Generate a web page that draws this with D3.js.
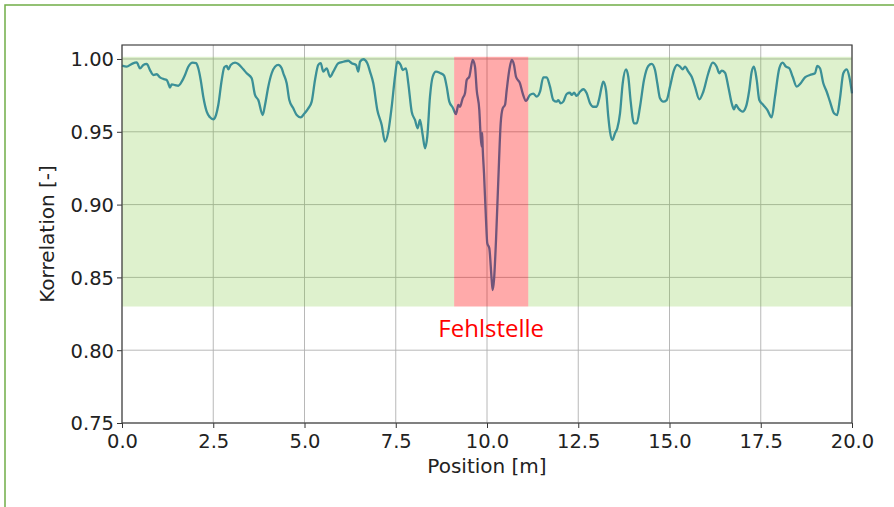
<!DOCTYPE html>
<html><head><meta charset="utf-8">
<script src="https://cdn.jsdelivr.net/npm/d3@7"></script>
<style>body{margin:0;background:#fff;} svg{display:block;}</style>
</head><body>
<svg id="c" width="894" height="507"></svg>
<script>
const positions = [0,0.129,0.266,0.403,0.493,0.584,0.677,0.767,0.858,0.951,1.041,1.132,1.225,1.268,1.315,1.362,1.452,1.542,1.636,1.726,1.816,1.937,2.027,2.090,2.156,2.227,2.321,2.411,2.501,2.575,2.638,2.732,2.803,2.868,2.912,2.978,3.096,3.186,3.323,3.416,3.553,3.644,3.734,3.855,3.918,4.008,4.101,4.192,4.282,4.375,
4.419,4.512,4.584,4.693,4.786,4.896,4.986,5.104,5.197,5.288,5.378,5.444,5.515,5.608,5.699,5.789,5.926,6.063,6.200,6.293,6.411,6.474,6.521,6.611,6.721,6.795,6.885,6.995,7.115,7.205,7.296,7.389,7.479,7.542,7.636,7.690,7.781,7.844,7.937,8.027,8.101,8.164,8.238,8.301,8.364,8.438,8.512,8.603,8.712,8.822,8.896,8.967,9.060,9.151,
9.214,9.260,9.334,9.397,9.444,9.515,9.608,9.671,9.718,9.789,9.827,9.855,9.868,9.882,9.918,9.973,10.008,10.063,10.129,10.156,10.192,10.247,10.310,10.375,10.430,10.493,10.540,10.611,10.677,10.740,10.795,10.904,10.978,11.068,11.178,11.268,11.362,11.452,11.542,11.636,11.726,11.816,11.910,11.953,12.019,12.090,12.184,12.274,12.321,12.384,12.458,12.548,12.638,12.732,12.822,12.912,13.005,13.077,13.142,13.186,13.260,13.323,13.370,13.433,13.507,13.570,13.644,13.718,13.808,13.871,13.937,14.027,14.101,14.192,14.301,14.419,14.512,14.603,14.666,14.740,14.830,14.923,15.014,15.123,15.214,15.288,15.362,15.425,15.515,15.608,15.699,15.816,15.926,16.063,16.184,16.293,16.364,16.430,16.521,16.611,16.704,16.767,16.822,16.885,17.005,17.096,17.186,17.252,17.315,17.389,17.460,17.570,17.679,17.800,17.890,18.008,18.101,18.192,18.282,18.375,18.485,18.595,18.712,18.849,18.986,19.049,19.123,19.214,19.307,19.397,19.507,19.592,19.671,19.762,19.855,19.926,20.0];
const correlation = [0.9954,0.9947,0.9966,0.9977,0.9936,0.9959,0.9966,0.9924,0.9890,0.9895,0.9874,0.9863,0.9856,0.9833,0.9803,0.9826,0.9821,0.9816,0.9844,0.9890,0.9947,0.9975,0.9971,0.9936,0.9856,0.9741,0.9638,0.9599,0.9586,0.9615,0.9684,0.9856,0.9943,0.9952,0.9929,0.9959,0.9975,0.9966,0.9929,0.9902,0.9867,0.9753,0.9718,0.9615,0.9684,0.9810,0.9902,0.9947,0.9959,0.9936,
0.9902,0.9833,0.9718,0.9661,0.9615,0.9599,0.9622,0.9661,0.9707,0.9856,0.9959,0.9971,0.9913,0.9936,0.9878,0.9913,0.9971,0.9981,0.9988,0.9971,0.9959,0.9913,0.9981,0.9998,0.9971,0.9913,0.9833,0.9650,0.9547,0.9432,0.9501,0.9672,0.9878,0.9981,0.9959,0.9924,0.9936,0.9833,0.9638,0.9581,0.9524,0.9581,0.9478,0.9387,0.9467,0.9741,0.9878,0.9913,0.9904,0.9887,0.9810,0.9707,0.9667,0.9622,
0.9684,0.9672,0.9730,0.9764,0.9856,0.9878,0.9993,0.9947,0.9787,0.9650,0.9467,0.9398,0.9492,0.9389,0.9215,0.8894,0.8734,0.8700,0.8482,0.8413,0.8482,0.8757,0.9169,0.9558,0.9661,0.9684,0.9787,0.9924,0.9993,0.9959,0.9878,0.9833,0.9764,0.9712,0.9753,0.9762,0.9741,0.9775,0.9874,0.9874,0.9810,0.9718,0.9707,0.9718,0.9696,0.9707,0.9760,0.9768,0.9753,0.9768,0.9746,0.9775,0.9792,0.9764,0.9696,0.9672,0.9672,0.9730,0.9810,0.9844,0.9787,0.9604,0.9501,0.9444,0.9490,0.9524,0.9627,0.9833,0.9929,0.9878,0.9707,0.9558,0.9558,0.9672,0.9856,0.9952,0.9966,0.9924,0.9833,0.9730,0.9707,0.9718,0.9810,0.9924,0.9959,0.9947,0.9929,0.9947,0.9913,0.9878,0.9810,0.9723,0.9775,0.9902,0.9975,0.9947,0.9902,0.9920,0.9906,0.9810,0.9696,0.9654,0.9684,0.9661,0.9638,0.9672,0.9787,0.9913,0.9947,0.9856,0.9718,0.9684,0.9650,0.9599,0.9741,0.9936,0.9975,0.9947,0.9936,0.9878,0.9810,0.9833,0.9874,0.9890,0.9902,0.9952,0.9936,0.9833,0.9775,0.9707,0.9627,0.9615,0.9730,0.9902,0.9929,0.9878,0.9764];
const xTicks = [0, 2.5, 5, 7.5, 10, 12.5, 15, 17.5, 20];
const yTicks = [0.75, 0.80, 0.85, 0.90, 0.95, 1.00];
const okBand = [0.83, 1.0015];
const defectSpan = [9.1, 11.13];
const defectLabel = "Fehlstelle";
const xLabel = "Position [m]";
const yLabel = "Korrelation [-]";

const svg = d3.select("#c");
const L = 122, R = 852, T = 45, B = 423;
const x = d3.scaleLinear().domain([0, 20]).range([L, R]);
const y = d3.scaleLinear().domain([0.75, 1.0096]).range([B, T]);

// frame
svg.append("rect").attr("x", 5).attr("y", 5).attr("width", 1000).attr("height", 1000)
  .attr("fill", "none").attr("stroke", "#70AD47").attr("stroke-width", 1.5);

// grid
const g = svg.append("g");
g.selectAll(".gx").data(xTicks).join("line")
  .attr("x1", d => x(d)).attr("x2", d => x(d)).attr("y1", T).attr("y2", B)
  .attr("stroke", "#b0b0b0").attr("stroke-width", 0.9);
g.selectAll(".gy").data(yTicks).join("line")
  .attr("y1", d => y(d)).attr("y2", d => y(d)).attr("x1", L).attr("x2", R)
  .attr("stroke", "#b0b0b0").attr("stroke-width", 0.9);

// line
svg.append("path").datum(positions.map((p, i) => [p, correlation[i]]))
  .attr("fill", "none").attr("stroke", "#2a80b8").attr("stroke-width", 2.3)
  .attr("stroke-linejoin", "round")
  .attr("d", d3.line().curve(d3.curveMonotoneX).x(d => x(d[0])).y(d => y(d[1])));

// bands (overlay)
const greenParts = [[0, defectSpan[0]], [defectSpan[1], 20]];
svg.selectAll(".gb").data(greenParts).join("rect")
  .attr("x", d => x(d[0])).attr("width", d => x(d[1]) - x(d[0]))
  .attr("y", y(okBand[1])).attr("height", y(okBand[0]) - y(okBand[1]))
  .attr("fill", "rgb(115,195,45)").attr("fill-opacity", 0.24);
svg.append("rect")
  .attr("x", x(defectSpan[0])).attr("width", x(defectSpan[1]) - x(defectSpan[0]))
  .attr("y", y(okBand[1])).attr("height", y(okBand[0]) - y(okBand[1]))
  .attr("fill", "red").attr("fill-opacity", 0.333);

// axes
const font = "DejaVu Sans";
const xa = svg.append("g").attr("transform", `translate(0,${B})`)
  .call(d3.axisBottom(x).tickValues(xTicks).tickFormat(d3.format(".1f")).tickSize(5).tickSizeOuter(0));
const ya = svg.append("g").attr("transform", `translate(${L},0)`)
  .call(d3.axisLeft(y).tickValues(yTicks).tickFormat(d3.format(".2f")).tickSize(5).tickSizeOuter(0));
[xa, ya].forEach(a => {
  a.select(".domain").remove();
  a.selectAll("line").attr("stroke", "#333").attr("stroke-width", 1);
  a.selectAll("text").attr("font-family", font).attr("font-size", 19.5).attr("fill", "#222");
});
xa.selectAll("text").attr("y", 7).attr("dy", "0.9em");
ya.selectAll("text").attr("x", -8).attr("dy", "0.35em");

// spines
svg.append("rect").attr("x", L).attr("y", T).attr("width", R - L).attr("height", B - T)
  .attr("fill", "none").attr("stroke", "#444").attr("stroke-width", 1.2);

// labels
svg.append("text").attr("x", 487).attr("y", 473).attr("text-anchor", "middle")
  .attr("font-family", font).attr("font-size", 20).attr("fill", "#222").text(xLabel);
svg.append("text").attr("transform", `translate(54,${(T + B) / 2}) rotate(-90)`).attr("text-anchor", "middle")
  .attr("font-family", font).attr("font-size", 20).attr("fill", "#222").text(yLabel);
svg.append("text").attr("x", x((defectSpan[0] + defectSpan[1]) / 2)).attr("y", 337).attr("text-anchor", "middle")
  .attr("font-family", "Open Sans").attr("font-size", 24).attr("fill", "#ff0000").text(defectLabel);
</script>
</body></html>
